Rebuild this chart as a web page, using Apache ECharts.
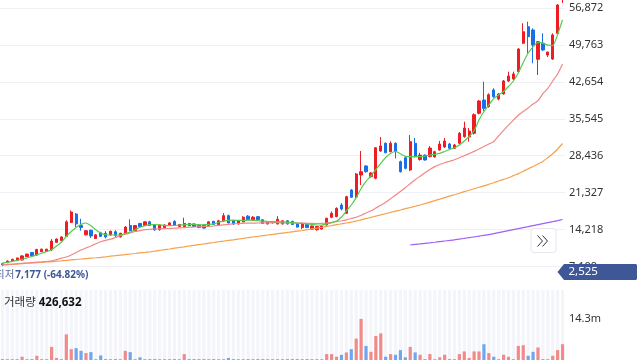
<!DOCTYPE html>
<html><head><meta charset="utf-8">
<script src="https://cdn.jsdelivr.net/npm/echarts@6/dist/echarts.min.js"></script>
<style>html,body{margin:0;padding:0;background:#fff}#c{width:640px;height:360px}</style>
</head><body><div id="c"></div>
<script>
// ---- data ----
const opens = [7650,7850,8170,8300,8360,9000,9800,9300,9950,10000,10300,11750,12100,12900,15600,17200,15000,13200,14100,12500,13600,13500,13200,13800,12800,13500,15000,14000,15400,15000,15700,15100,14200,14600,15000,15800,14800,14800,15400,15300,15100,15100,15000,15800,15100,15900,16900,15900,15300,15700,16800,16000,16700,16100,15300,15500,15300,15300,15900,15800,15400,14600,15200,14300,14200,14330,15100,16580,16700,18950,17350,21840,20490,24725,26460,24400,24090,29340,30830,29210,30830,27290,28050,25690,30830,27710,28550,28300,28200,29540,30120,30690,29860,30830,32100,32040,32750,36600,39160,37870,41090,39350,40320,42820,43200,44610,50080,53270,52640,47000,50080,47820,47050,52000,59000];
const closes = [7450,8170,8500,8750,9150,9500,9150,10400,10450,10450,12000,12400,12800,15700,17600,15300,14600,14000,13000,13200,12900,12800,13900,13100,13500,14700,14000,15000,14800,15700,15000,14150,15100,15100,15500,15100,15200,15400,14950,14800,14600,14500,15700,15200,15900,16900,15500,15300,15900,16600,16100,16600,16100,15400,15700,15700,16200,15900,15300,15200,14700,15300,14600,14900,14800,14900,16390,17350,18310,18180,20550,20430,24920,25360,25360,25110,29980,30310,29020,30830,29210,25360,26010,31140,28250,28550,27610,29900,29200,30690,31270,29860,30500,32750,33770,33200,36330,38970,37560,40180,39800,40320,42820,43780,44170,48980,52310,51350,49750,50390,48790,48400,51680,57450,60500];
const lows = [7177,7750,8100,8200,8300,8900,9000,9200,9900,9950,10100,11700,12000,12800,15500,14700,14000,13100,12600,12400,12800,12500,13000,12800,12700,13400,13900,13900,14700,14900,14900,14000,14000,14500,14900,15000,14700,14700,14850,14700,14500,14400,14900,15100,15000,15800,15400,15100,15200,15600,16000,15900,16000,15300,15200,15400,15200,15200,15200,15100,14600,14300,14500,14200,14000,14200,15000,16400,16600,17900,17200,20300,20300,22800,25200,24200,23900,29200,28900,29100,27900,25200,25800,25500,28100,27500,27500,28100,28100,29400,29900,29700,29700,30600,31900,31140,32500,36400,37040,37700,39600,39100,40200,42600,43000,44400,49940,48150,46230,43980,48600,47440,46860,51800,57840];
const highs = [7800,8250,8600,8800,9300,9550,9850,10500,10550,10500,12400,12500,12900,16000,17900,17400,16300,14100,14200,13300,13800,13900,14000,14100,13600,14900,16200,15100,15500,15800,15900,15200,15200,15200,15600,16000,15300,16500,15500,15400,15200,15200,15800,15900,16100,17400,17100,16100,16000,16800,17000,16800,16800,16200,15800,15800,16800,16000,16000,15900,15500,15600,15300,15000,14900,15000,16500,17700,18500,19300,20700,22000,25100,29340,26600,25300,30100,32040,31000,31200,31000,27500,28300,32420,31850,29000,28700,30300,29400,31270,31850,30900,30700,33000,34990,33770,36600,39160,42690,40450,41410,40500,43010,44610,44610,49120,53930,54240,52960,50520,52000,48460,52000,57640,61000];
const volumesM = [0.3,0.3,0.3,0.3,1.13,0.3,0.3,1.47,0.3,0.3,4.56,0.69,0.3,8.92,3.77,4.12,3.19,2.4,2.74,0.3,1.58,0.3,0.3,0.3,0.3,3.19,2.74,0.3,0.93,0.3,0.3,0.3,0.3,0.3,0.3,0.3,0.3,2.06,0.3,0.3,0.3,0.3,0.3,0.3,0.3,0.3,0.69,0.3,0.3,0.3,0.3,0.3,0.3,0.3,0.3,0.3,0.3,0.3,0.3,0.3,0.3,0.3,0.3,0.3,0.3,0.3,2.06,2.06,1.13,1.8,2.64,3.77,7.44,14.3,4.9,2.85,8.33,9.26,1.13,2.06,1.82,3.43,0.93,4.56,2.64,1.82,0.3,2.06,0.3,0.93,1.82,0.3,0.3,2.06,2.98,0.69,2.98,2.98,5.49,2.4,1.13,0.3,1.82,1.13,0.3,4.9,5.15,1.47,2.85,4.36,0.3,0.3,1.47,3.43,5.49];
const ma5 = [7760,7920,8110,8300,8500,8750,9040,9360,9670,10000,10320,11060,11770,12890,13850,14620,15220,15480,14960,14180,13560,13210,13170,13170,13170,13440,13750,14190,14670,14950,15180,15190,15120,15040,14980,15000,15080,15140,15220,15200,15120,15140,15200,15310,15620,15830,15980,16020,15970,15970,16020,16020,15930,15850,15770,15730,15730,15710,15660,15580,15480,15390,15290,15190,15100,15100,15290,15540,15870,16640,17800,18950,20370,22130,23510,24530,25780,26980,28090,28840,29300,28800,28320,28270,28250,28250,28380,28570,28710,28880,29250,29630,29980,30500,31270,32140,33290,35310,36950,38200,39450,40130,40800,41760,42820,44360,46380,48210,49400,50250,50110,49710,49630,51800,54600];
const ma20 = [7400,7480,7550,7630,7710,7780,7860,7940,8010,8090,8190,8440,8710,8940,9320,9790,10270,10670,11060,11480,11880,12150,12370,12690,13020,13310,13560,13850,14020,14190,14270,14330,14370,14410,14440,14480,14540,14600,14660,14710,14750,14810,14850,14910,15020,15140,15230,15330,15390,15430,15450,15470,15480,15500,15520,15540,15540,15520,15500,15480,15470,15450,15430,15410,15390,15410,15480,15600,15750,15910,16100,16350,16580,16970,17410,17830,18370,18910,19470,20140,20880,21550,22280,23050,23800,24480,25170,25780,26340,26750,27090,27380,27670,28040,28440,28840,29270,29730,30210,30690,31170,32270,33330,34330,35290,36240,36930,37640,38390,39030,40380,41380,42820,44170,46090];
const ma60 = [7420,7480,7530,7610,7670,7730,7790,7840,7920,7980,8040,8130,8210,8300,8380,8460,8550,8630,8710,8790,8880,8980,9090,9190,9300,9400,9520,9610,9730,9830,9940,10060,10210,10350,10480,10630,10770,10900,11060,11190,11330,11460,11600,11730,11870,12000,12140,12250,12390,12520,12660,12790,12910,13040,13170,13290,13420,13540,13660,13790,13920,14040,14190,14350,14500,14660,14830,14980,15160,15330,15480,15660,15850,16100,16330,16560,16810,17040,17280,17530,17760,17990,18240,18470,18700,18950,19220,19510,19800,20070,20360,20650,20930,21220,21510,21780,22070,22360,22630,22940,23240,23570,23880,24190,24610,24990,25440,25920,26360,26840,27340,28050,28810,29730,30790];
const ma120Visible = [11250,11360,11460,11570,11670,11780,11900,12020,12120,12230,12390,12520,12670,12810,12960,13100,13250,13440,13640,13830,14020,14210,14390,14600,14790,14990,15180,15370,15560,15750,15950,16160];
const ma120 = Array(opens.length - ma120Visible.length).fill(null).concat(ma120Visible);
const categories = opens.map((_, i) => 'D' + (i + 1));
const priceTicks = [7109, 14218, 21327, 28436, 35545, 42654, 49763, 56872];
const volumeTickM = 14.3;
const lowestLabel = '7,177 (-64.82%)';
const currentPrice = '2,525';
const lastVolume = '426,632';

// ---- chart ----
const UP = '#ee1c25', DOWN = '#1a6fe6';
const VUP = '#f28a8a', VDOWN = '#6fa6ee';
const FONT = "'Noto Sans', 'Noto Sans CJK KR', sans-serif";
const candleData = opens.map((o, i) => [o, closes[i], lows[i], highs[i]]);
const volData = volumesM.map((v, i) => ({ value: v, itemStyle: { color: closes[i] >= opens[i] ? VUP : VDOWN } }));
const step = priceTicks[1] - priceTicks[0];

const chart = echarts.init(document.getElementById('c'), null, { renderer: 'canvas' });
chart.setOption({
  animation: false,
  backgroundColor: '#ffffff',
  textStyle: { fontFamily: FONT },
  grid: [
    { left: -1.5, right: 75, top: 0, height: 266.5 },
    { left: -1.5, right: 75, top: 290, height: 71 }
  ],
  xAxis: [
    { type: 'category', gridIndex: 0, data: categories, show: false, boundaryGap: true },
    { type: 'category', gridIndex: 1, data: categories, show: false, boundaryGap: true }
  ],
  yAxis: [
    { type: 'value', gridIndex: 0, position: 'right', min: priceTicks[0], max: 58412, interval: step,
      axisLine: { show: false }, axisTick: { show: false },
      splitLine: { show: true, showMaxLine: false, lineStyle: { color: '#eef0f5', width: 1 } },
      axisLabel: { margin: 4, color: '#333', fontSize: 11, fontFamily: FONT, showMaxLabel: false,
        formatter: v => Math.round(v).toLocaleString('en-US') } },
    { type: 'value', gridIndex: 1, position: 'right', min: 0, max: 24.35, interval: volumeTickM,
      axisLine: { show: false }, axisTick: { show: false }, splitLine: { show: false },
      axisLabel: { margin: 4, color: '#333', fontSize: 11, fontFamily: FONT, showMinLabel: false, showMaxLabel: false,
        formatter: v => v.toFixed(1) + 'm' } }
  ],
  series: [
    { type: 'bar', xAxisIndex: 1, yAxisIndex: 1, data: volData, barWidth: 3.2, silent: true,
      showBackground: true, backgroundStyle: { color: '#f3f5fa' } },
    { type: 'candlestick', xAxisIndex: 0, yAxisIndex: 0, data: candleData, barWidth: 2.8, clip: true, silent: true,
      itemStyle: { color: UP, color0: DOWN, borderColor: UP, borderColor0: DOWN, borderWidth: 1 } },
    { type: 'line', xAxisIndex: 0, yAxisIndex: 0, data: ma120, showSymbol: false, silent: true, smooth: 0.2,
      lineStyle: { color: '#a25ff2', width: 1.2 } },
    { type: 'line', xAxisIndex: 0, yAxisIndex: 0, data: ma60, showSymbol: false, silent: true, smooth: 0.2,
      lineStyle: { color: '#f7a04c', width: 1.2 } },
    { type: 'line', xAxisIndex: 0, yAxisIndex: 0, data: ma20, showSymbol: false, silent: true, smooth: 0.2,
      lineStyle: { color: '#f38686', width: 1.2 } },
    { type: 'line', xAxisIndex: 0, yAxisIndex: 0, data: ma5, showSymbol: false, silent: true, smooth: 0.2,
      lineStyle: { color: '#55cc4f', width: 1.2 } }
  ],
  graphic: [
    { type: 'text', left: -5, top: 269.5, z: 10, style: {
        text: '{a|최저}{b|' + lowestLabel + '}',
        rich: { a: { fill: '#5b6b9c', fontSize: 10.5, fontFamily: FONT }, b: { fill: '#3e5797', fontSize: 10, fontWeight: 'bold', fontFamily: FONT, padding: [0, 0, 0, 1] } } } },
    { type: 'text', left: 4, top: 297, z: 10, style: {
        text: '{a|거래량 }{b|' + lastVolume + '}',
        rich: { a: { fill: '#333', fontSize: 11.5, fontFamily: FONT }, b: { fill: '#111', fontSize: 11.5, fontWeight: 'bold', fontFamily: FONT } } } },
    { type: 'rect', z: 10, shape: { x: 531, y: 228.5, width: 25, height: 24, r: 3 },
      style: { fill: '#ffffff', stroke: '#e4e7ed', lineWidth: 1 } },
    { type: 'polyline', z: 11, shape: { points: [[537.5, 235.5], [542.5, 241], [537.5, 246.5]] },
      style: { stroke: '#333', lineWidth: 1, fill: null } },
    { type: 'polyline', z: 11, shape: { points: [[542.5, 235.5], [547.5, 241], [542.5, 246.5]] },
      style: { stroke: '#333', lineWidth: 1, fill: null } },
    { type: 'polygon', z: 12, shape: { points: [[557.5, 272], [564, 264], [636, 264], [637, 265], [637, 279], [636, 280], [564, 280]] },
      style: { fill: '#3e5897' } },
    { type: 'text', left: 568.5, top: 265.5, z: 13, style: { text: currentPrice, fill: '#ffffff', font: '11.5px ' + FONT } }
  ]
});
</script></body></html>
